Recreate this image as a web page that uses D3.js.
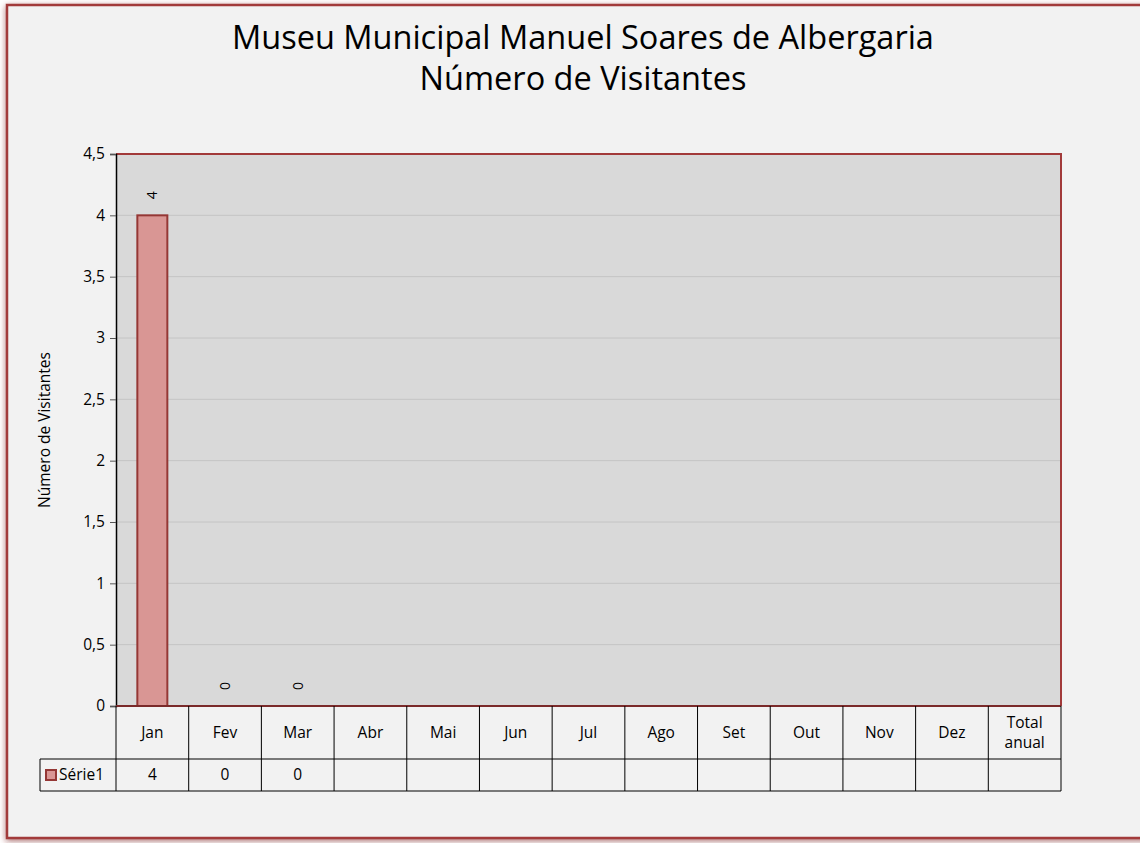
<!doctype html>
<html>
<head>
<script src="https://cdnjs.cloudflare.com/ajax/libs/d3/7.8.5/d3.min.js"></script>
<style>
  body { margin: 0; background: #fff; }
  text { font-family: "Open Sans", "Noto Sans", sans-serif; fill: #000; }
</style>
</head>
<body>
<div id="viz"></div>
<script>
// chart data
var categories = ["Jan", "Fev", "Mar", "Abr", "Mai", "Jun", "Jul", "Ago", "Set", "Out", "Nov", "Dez", "Total anual"];
var values = [4, 0, 0, null, null, null, null, null, null, null, null, null, null];
var yTicks = [0, 0.5, 1, 1.5, 2, 2.5, 3, 3.5, 4, 4.5];
var seriesName = "Série1";
var titleLines = ["Museu Municipal Manuel Soares de Albergaria", "Número de Visitantes"];
var yLabel = "Número de Visitantes";

var W = 1140, H = 843;
var plot = { left: 116, top: 154, right: 1061, bottom: 706 };
var rowH1 = 53, rowH2 = 32;
var fs = "15.5px";

var svg = d3.select("#viz").append("svg")
    .attr("width", W).attr("height", H);

var defs = svg.append("defs");
var f = defs.append("filter").attr("id", "shadow").attr("x", "-5%").attr("y", "-5%").attr("width", "110%").attr("height", "110%");
f.append("feDropShadow").attr("dx", 0).attr("dy", 2).attr("stdDeviation", 3).attr("flood-color", "#7a2020").attr("flood-opacity", 0.6);

// outer frame
svg.append("rect")
    .attr("x", 7).attr("y", 5).attr("width", 1140).attr("height", 833)
    .attr("fill", "#f2f2f2").attr("stroke", "#a23a3a").attr("stroke-width", 2.5)
    .attr("filter", "url(#shadow)");

// title
svg.append("text")
    .attr("text-anchor", "middle")
    .style("font-size", "32.5px")
    .selectAll("tspan").data(titleLines).enter().append("tspan")
    .attr("x", 583).attr("y", (d, i) => 49 + i * 41)
    .text(d => d);

var x = d3.scaleBand().domain(categories).range([plot.left, plot.right]);
var y = d3.scaleLinear().domain([0, 4.5]).range([plot.bottom, plot.top]);

// plot area
svg.append("rect")
    .attr("x", plot.left).attr("y", plot.top)
    .attr("width", plot.right - plot.left).attr("height", plot.bottom - plot.top)
    .attr("fill", "#d9d9d9");

// gridlines
svg.append("g").selectAll("line").data(yTicks.filter(t => t > 0 && t < 4.5)).enter().append("line")
    .attr("x1", plot.left).attr("x2", plot.right)
    .attr("y1", d => y(d)).attr("y2", d => y(d))
    .attr("stroke", "#c4c4c4").attr("stroke-width", 1);

// plot border top/right
svg.append("path")
    .attr("d", "M" + plot.left + "," + plot.top + "H" + plot.right + "V" + plot.bottom)
    .attr("fill", "none").attr("stroke", "#a23a3a").attr("stroke-width", 2);

var rows = categories.map((c, i) => ({ c: c, v: values[i] })).filter(d => d.v != null);

// bars
var bw = 30;
svg.append("g").selectAll("rect").data(rows).enter()
    .append("rect")
    .attr("x", d => x(d.c) + x.bandwidth() / 2 - bw / 2)
    .attr("y", d => y(d.v))
    .attr("width", bw)
    .attr("height", d => y(0) - y(d.v))
    .attr("fill", "#d99694").attr("stroke", "#953735").attr("stroke-width", 2);

// data labels (rotated)
svg.append("g").selectAll("text").data(rows).enter()
    .append("text")
    .attr("transform", d => "translate(" + (x(d.c) + x.bandwidth() / 2 + 5) + "," + (y(d.v) - 20) + ") rotate(-90)")
    .attr("text-anchor", "middle")
    .style("font-size", "14px")
    .text(d => d.v);

// y axis
var yAxis = svg.append("g")
    .attr("transform", "translate(" + plot.left + ",0)")
    .call(d3.axisLeft(y).tickValues(yTicks).tickSize(6).tickFormat(d => String(d).replace(".", ",")));
yAxis.select(".domain").attr("stroke", "#000").attr("stroke-width", 1.5);
yAxis.selectAll(".tick line").attr("stroke", "#555");
yAxis.selectAll(".tick text").style("font-size", fs).style("font-family", "'Open Sans', sans-serif").attr("x", -11);

// axis title
svg.append("text")
    .attr("transform", "translate(50," + ((plot.top + plot.bottom) / 2) + ") rotate(-90)")
    .attr("text-anchor", "middle")
    .style("font-size", fs)
    .text(yLabel);

// x axis line
svg.append("line")
    .attr("x1", plot.left).attr("x2", plot.right)
    .attr("y1", plot.bottom).attr("y2", plot.bottom)
    .attr("stroke", "#7a2a2a").attr("stroke-width", 2);

// data table
var t = svg.append("g");
var r1 = plot.bottom, r2 = plot.bottom + rowH1, r3 = plot.bottom + rowH1 + rowH2;
var legLeft = 40;
t.append("path")
    .attr("d", "M" + plot.left + "," + r1 + "V" + r3 + "H" + plot.right + "V" + r1 +
        "M" + legLeft + "," + r2 + "H" + plot.right + "M" + legLeft + "," + r2 + "V" + r3 + "H" + plot.left)
    .attr("fill", "none").attr("stroke", "#000").attr("stroke-width", 1);
t.selectAll("line.v").data(categories.slice(1)).enter().append("line")
    .attr("x1", d => x(d)).attr("x2", d => x(d))
    .attr("y1", r1).attr("y2", r3)
    .attr("stroke", "#000").attr("stroke-width", 1);

// header labels
t.selectAll("text.h").data(categories).enter().append("text")
    .attr("text-anchor", "middle")
    .style("font-size", fs)
    .each(function (d) {
        var words = d.split(" ");
        var sel = d3.select(this);
        var cx = x(d) + x.bandwidth() / 2;
        var cy = (r1 + r2) / 2 + 5;
        words.forEach(function (w, i) {
            sel.append("tspan").attr("x", cx)
                .attr("y", cy + (i - (words.length - 1) / 2) * 20)
                .text(w);
        });
    });

// value row
t.selectAll("text.v").data(rows).enter().append("text")
    .attr("x", d => x(d.c) + x.bandwidth() / 2)
    .attr("y", (r2 + r3) / 2 + 5)
    .attr("text-anchor", "middle")
    .style("font-size", fs)
    .text(d => d.v);

// legend key
t.append("rect")
    .attr("x", 46).attr("y", (r2 + r3) / 2 - 5)
    .attr("width", 10).attr("height", 10)
    .attr("fill", "#d99694").attr("stroke", "#953735").attr("stroke-width", 2);
t.append("text")
    .attr("x", 59).attr("y", (r2 + r3) / 2 + 5)
    .style("font-size", fs)
    .text(seriesName);
</script>
</body>
</html>
